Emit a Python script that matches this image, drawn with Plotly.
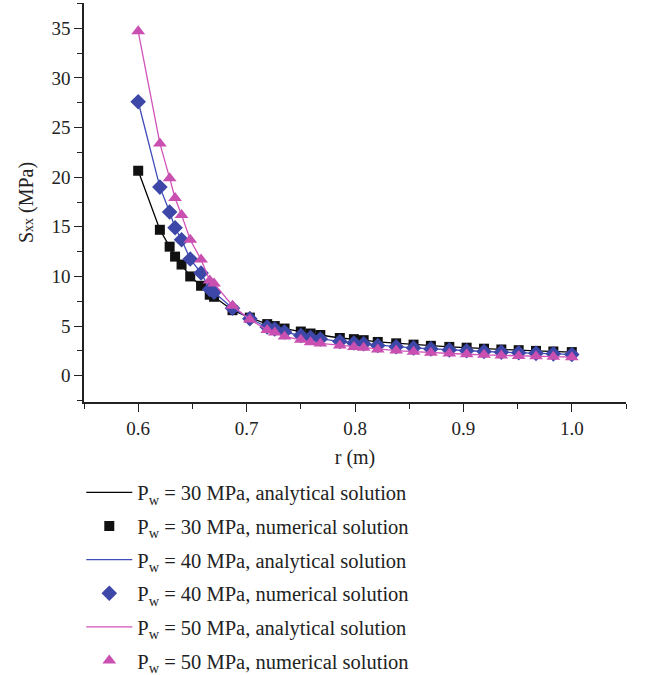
import plotly.graph_objects as go

r = [0.600, 0.620, 0.629, 0.634, 0.640, 0.648, 0.658, 0.666, 0.670, 0.687,
     0.703, 0.719, 0.726, 0.735, 0.750, 0.759, 0.768, 0.786, 0.799, 0.808,
     0.821, 0.838, 0.854, 0.870, 0.887, 0.903, 0.919, 0.935, 0.951, 0.967,
     0.983, 1.000]

s30 = [20.65, 14.7, 13.0, 12.0, 11.2, 10.0, 9.06, 8.16, 7.95, 6.6,
       5.85, 5.2, 5.0, 4.75, 4.45, 4.25, 4.1, 3.8, 3.68, 3.58,
       3.4, 3.26, 3.13, 3.01, 2.9, 2.82, 2.72, 2.64, 2.57, 2.5,
       2.44, 2.38]
s40 = [27.6, 19.0, 16.5, 14.9, 13.7, 11.75, 10.35, 8.7, 8.4, 6.8,
       5.75, 4.9, 4.7, 4.4, 4.05, 3.85, 3.7, 3.45, 3.3, 3.22,
       3.05, 2.92, 2.8, 2.7, 2.6, 2.52, 2.44, 2.37, 2.31, 2.25,
       2.2, 2.14]
s50 = [34.7, 23.4, 19.9, 17.9, 16.2, 13.7, 11.7, 9.6, 9.3, 7.05,
       5.65, 4.6, 4.35, 3.95, 3.62, 3.38, 3.25, 3.05, 2.9, 2.82,
       2.65, 2.53, 2.42, 2.32, 2.24, 2.16, 2.1, 2.04, 1.99, 1.95,
       1.91, 1.87]

x_ticks = [0.6, 0.7, 0.8, 0.9, 1.0]
x_tick_labels = ["0.6", "0.7", "0.8", "0.9", "1.0"]
y_ticks = [0, 5, 10, 15, 20, 25, 30, 35]

series = [
    ("30", s30, "#000000", "#111111", "square", 10),
    ("40", s40, "#3F4CB8", "#3D47A8", "diamond", 12),
    ("50", s50, "#D153B9", "#C94FB0", "triangle-up", 12),
]

font_family = "Liberation Serif"
fig = go.Figure()
for i, (p, vals, lc, mc, sym, ms) in enumerate(series):
    fig.add_trace(go.Scatter(
        x=r, y=vals, mode="lines",
        line=dict(color=lc, width=1.3),
        name=f"P<sub>w</sub> = {p} MPa, analytical solution",
        legendgroup=f"a{p}",
    ))
    fig.add_trace(go.Scatter(
        x=r, y=vals, mode="markers",
        marker=dict(symbol=sym, size=ms, color=mc, line=dict(width=0)),
        name=f"P<sub>w</sub> = {p} MPa, numerical solution",
        legendgroup=f"n{p}",
    ))

fig.update_layout(
    width=648, height=675,
    margin=dict(l=84, r=22, t=3, b=273),
    plot_bgcolor="white", paper_bgcolor="white",
    font=dict(family=font_family, size=18, color="#222222"),
    showlegend=True,
    legend=dict(
        x=-0.005, xanchor="left",
        y=0.3, yref="container", yanchor="top",
        font=dict(family=font_family, size=20.5, color="#222222"),
        tracegroupgap=4,
        itemwidth=46,
        bgcolor="rgba(0,0,0,0)",
    ),
    xaxis=dict(
        range=[0.55, 1.05],
        tickvals=x_ticks, ticktext=x_tick_labels,
        ticks="outside", ticklen=8, tickwidth=1.3, tickcolor="#222222",
        minor=dict(ticks="outside", ticklen=5, dtick=0.05, tick0=0.55, tickcolor="#222222", tickwidth=1.3),
        showline=True, linecolor="#222222", linewidth=1.5,
        showgrid=False, zeroline=False,
        title=dict(text="r (m)", font=dict(family=font_family, size=20), standoff=12),
        tickfont=dict(family=font_family, size=19),
    ),
    yaxis=dict(
        range=[-2.65, 37.55],
        tickvals=y_ticks,
        ticks="outside", ticklen=8, tickwidth=1.3, tickcolor="#222222",
        minor=dict(ticks="outside", ticklen=5, dtick=2.5, tick0=0, tickcolor="#222222", tickwidth=1.3),
        showline=True, linecolor="#222222", linewidth=1.5,
        showgrid=False, zeroline=False,
        title=dict(text="S<span style='font-size:14px'>xx</span> (MPa)", font=dict(family=font_family, size=20), standoff=12),
        tickfont=dict(family=font_family, size=19),
    ),
)

fig.write_html("out.html")
